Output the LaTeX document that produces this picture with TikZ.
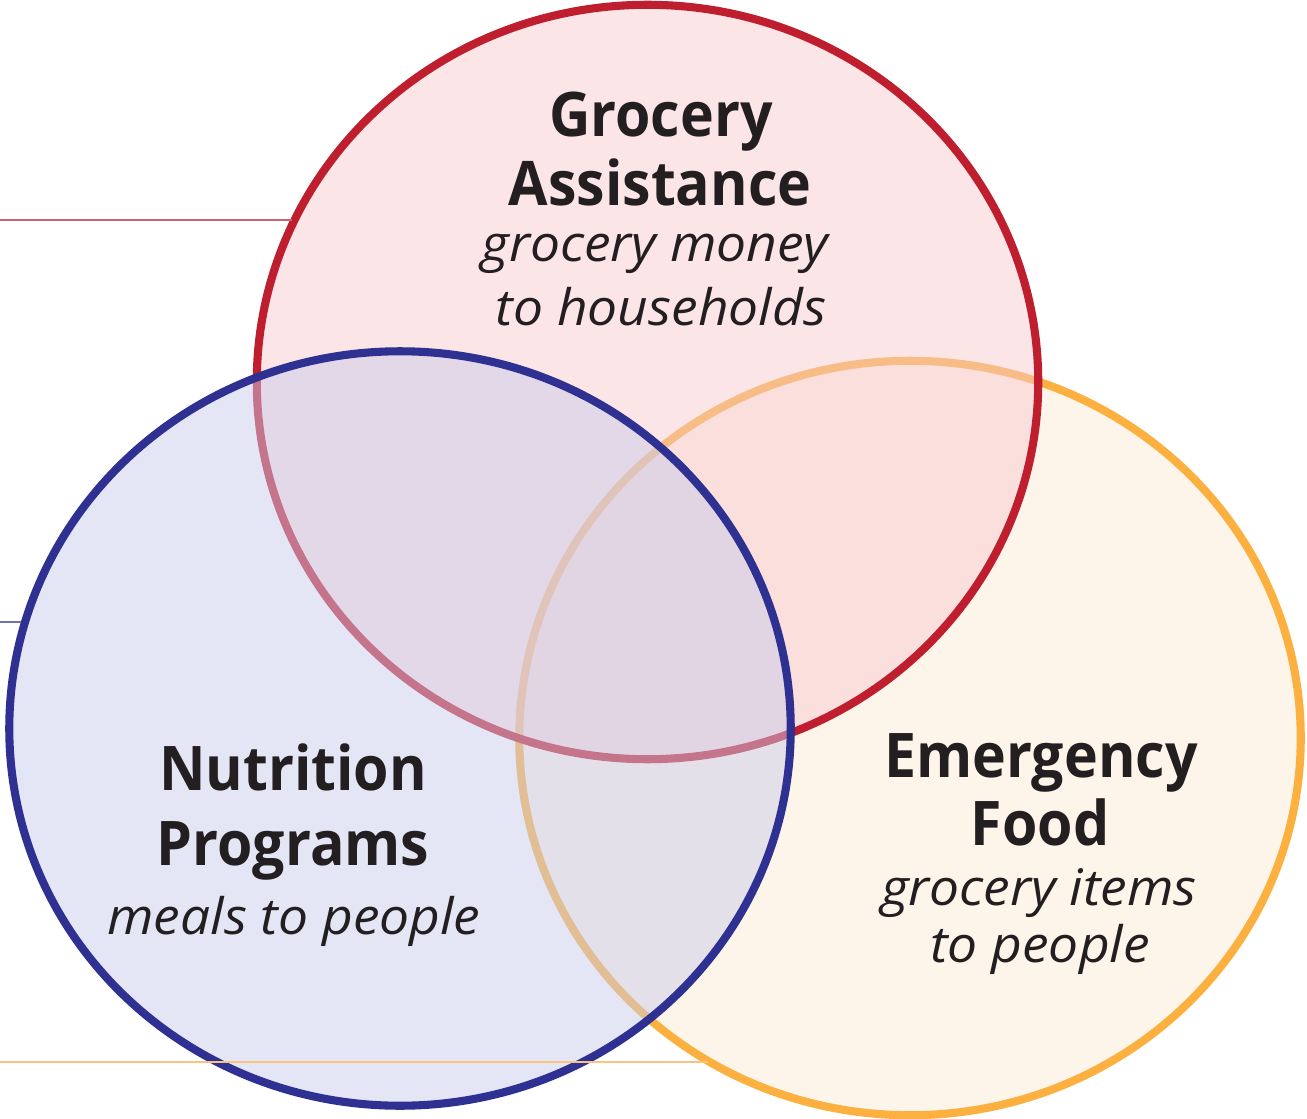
\documentclass[tikz,border=0pt]{standalone}
\usepackage{fontspec}
\setmainfont{Open Sans}[BoldFeatures={FakeStretch=0.93},ItalicFeatures={FakeStretch=1.06}]
\usetikzlibrary{shapes.geometric}
\definecolor{redc}{RGB}{190,30,45}
\definecolor{bluec}{RGB}{46,49,146}
\definecolor{orangec}{RGB}{251,176,64}
\definecolor{redfill}{RGB}{247,203,207}
\definecolor{bluefill}{RGB}{202,204,235}
\definecolor{orangefill}{RGB}{254,245,234}
\definecolor{redline}{RGB}{204,98,112}
\definecolor{blueline}{RGB}{112,114,174}
\definecolor{orangeline}{RGB}{248,196,126}
\definecolor{ink}{RGB}{35,31,32}
\begin{document}
\begin{tikzpicture}[x=0.01cm,y=-0.01cm,
  circ/.style={ellipse, inner sep=0pt, line width=2.3pt, minimum width=7.81cm, minimum height=7.54cm},
  title/.style={anchor=base, text=ink, inner sep=0pt, font=\fontsize{17.5}{21}\selectfont\bfseries},
  sub/.style={anchor=base, text=ink, inner sep=0pt, font=\fontsize{14.3}{17}\selectfont\itshape},
  guide/.style={line width=0.6pt}]
\useasboundingbox (0,0) rectangle (1307,1119);
% circles
\node[circ, fill=orangefill, draw=orangec] (orange) at (910,738) {};
\node[circ, fill=redfill, fill opacity=0.5, draw=redc] (red) at (647.5,382) {};
\node[circ, fill=bluefill, fill opacity=0.5, draw=bluec] (blue) at (400,728.5) {};
% guide lines
\coordinate (rl0) at (0,220);
\coordinate (rl1) at (292,220);
\coordinate (bl0) at (0,622);
\coordinate (bl1) at (21,622);
\coordinate (ol0) at (0,1062);
\coordinate (ol1) at (708,1062);
\draw[guide, redline] (rl0) -- (rl1);
\draw[guide, blueline] (bl0) -- (bl1);
\draw[guide, orangeline] (ol0) -- (ol1);
% labels
\node[title] (g1) at (661,137) {Grocery};
\node[title] (g2) at (660,206) {Assistance};
\node[sub] (g3) at (655,262) {grocery money};
\node[sub] (g4) at (661,326) {to households};
\node[title] (n1) at (293,790) {Nutrition};
\node[title] (n2) at (293,865) {Programs};
\node[sub] (n3) at (294,934) {meals to people};
\node[title] (e1) at (1041,777) {Emergency};
\node[title] (e2) at (1040,845) {Food};
\node[sub] (e3) at (1039,905) {grocery items};
\node[sub] (e4) at (1040,962) {to people};
\end{tikzpicture}
\end{document}
